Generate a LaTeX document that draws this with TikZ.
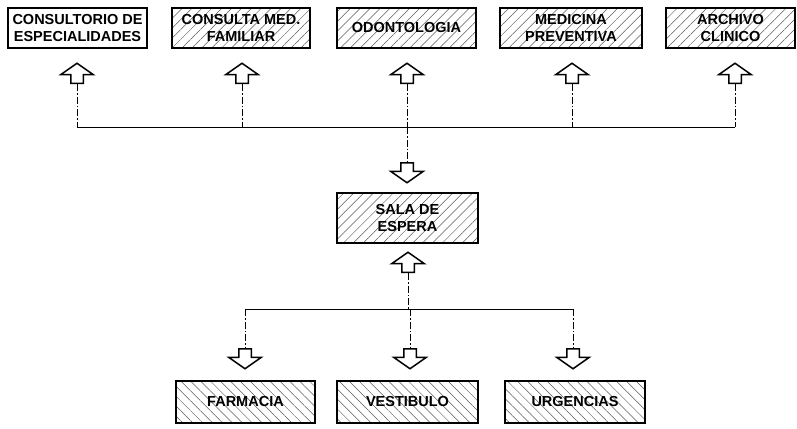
\documentclass[tikz,border=0pt]{standalone}
\usepackage{fontspec}
\setmainfont{Liberation Sans}
\usetikzlibrary{shapes.arrows,patterns.meta}
\definecolor{hatchgray}{RGB}{90, 90, 90}

\tikzset{
  room/.style={draw, line width=1.6pt, align=center, inner sep=1pt,
    font=\bfseries\fontsize{14.5}{17}\selectfont},
  hatchup/.style={pattern={Lines[angle=45,distance=7pt,line width=0.5pt]}, pattern color=hatchgray},
  hatchdown/.style={pattern={Lines[angle=-45,distance=7pt,line width=0.5pt]}, pattern color=hatchgray},
  flow/.style={single arrow, draw, line width=1.5pt, fill=white, inner sep=5.5pt,
    minimum height=20pt, minimum width=32pt, single arrow head extend=10pt,
    single arrow tip angle=110},
  flowup/.style={flow, shape border rotate=90, anchor=tail},
  flowdown/.style={flow, shape border rotate=270, anchor=tail},
  link/.style={line width=0.6pt},
  vlink/.style={line width=0.6pt, dash pattern=on 7pt off 2pt on 1.5pt off 2pt}
}

\begin{document}
\begin{tikzpicture}[x=1pt,y=-1pt]
\useasboundingbox (0,0) rectangle (797,428);

% Top row
\node[room, minimum width=139pt, minimum height=40pt] (cesp) at (77.5,28) {CONSULTORIO DE\\ESPECIALIDADES};
\node[room, hatchup, minimum width=138pt, minimum height=40pt] (cfam) at (241,28) {CONSULTA MED.\\FAMILIAR};
\node[room, hatchup, minimum width=139pt, minimum height=40pt] (odon) at (406.5,28) {ODONTOLOGIA};
\node[room, hatchup, minimum width=142pt, minimum height=40pt] (mprev) at (571,28) {MEDICINA\\PREVENTIVA};
\node[room, hatchup, minimum width=129pt, minimum height=40pt] (arch) at (730.5,28) {ARCHIVO\\CLINICO};

% Arrows up to the top row
\node[flowup] (a1) at (77,84) {};
\node[flowup] (a2) at (242,84) {};
\node[flowup] (a3) at (407,84) {};
\node[flowup] (a4) at (572,84) {};
\node[flowup] (a5) at (735,84) {};

% Waiting room
\node[flowdown] (sd) at (407,162) {};
\node[room, hatchup, minimum width=141pt, minimum height=50pt] (sala) at (407.5,218) {SALA DE\\ESPERA};
\node[flowup] (su) at (408,273) {};

% Arrows down to the bottom row
\node[flowdown] (d1) at (245,348) {};
\node[flowdown] (d2) at (410,348) {};
\node[flowdown] (d3) at (573,348) {};

% Bottom row
\node[room, hatchdown, minimum width=139pt, minimum height=42pt] (farm) at (245.5,402) {FARMACIA};
\node[room, hatchdown, minimum width=141pt, minimum height=42pt] (vest) at (407.5,402) {VESTIBULO};
\node[room, hatchdown, minimum width=140pt, minimum height=42pt] (urg) at (575,402) {URGENCIAS};

% Connectors
\coordinate (bustop) at (407,127);
\coordinate (busbot) at (408,309);
\draw[link] (a1.tail |- bustop) -- (a5.tail |- bustop);
\foreach \n in {a1,a2,a3,a4,a5} {
  \draw[vlink] (\n.tail) -- (\n.tail |- bustop);
}
\draw[vlink] (bustop) -- (sd.tail);
\draw[vlink] (su.tail) -- (busbot);
\draw[link] (d1.tail |- busbot) -- (d3.tail |- busbot);
\foreach \n in {d1,d2,d3} {
  \draw[vlink] (\n.tail |- busbot) -- (\n.tail);
}
\end{tikzpicture}
\end{document}
